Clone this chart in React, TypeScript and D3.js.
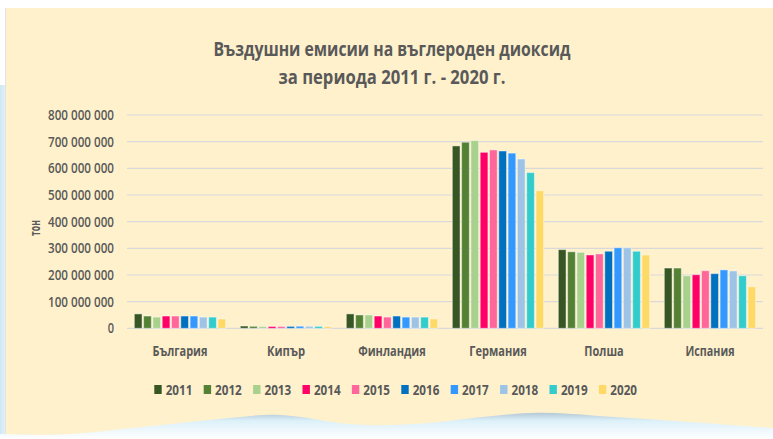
import React from "react";
import * as d3 from "d3";

const categories = ["България", "Кипър", "Финландия", "Германия", "Полша", "Испания"];
const years = ["2011", "2012", "2013", "2014", "2015", "2016", "2017", "2018", "2019", "2020"];
const colors = ["#375623", "#548235", "#a9d18e", "#ff0066", "#ff6699", "#0070c0", "#3399ff", "#9dc3e6", "#33cccc", "#ffd966"];
const bulgaria = [54e6, 46e6, 42e6, 46e6, 46e6, 46e6, 46e6, 42e6, 42e6, 35e6];
const cyprus = [8.5e6, 7.5e6, 6.8e6, 6.8e6, 7e6, 7.2e6, 7.8e6, 7.6e6, 7.2e6, 6.8e6];
const finland = [54e6, 50e6, 50e6, 46e6, 42e6, 46e6, 42e6, 42e6, 42e6, 35e6];
const germany = [684e6, 698e6, 704e6, 660e6, 669e6, 665e6, 657e6, 635e6, 584e6, 516e6];
const poland = [295e6, 287e6, 285e6, 275e6, 279e6, 289e6, 302e6, 302e6, 289e6, 275e6];
const spain = [226e6, 226e6, 197e6, 201e6, 216e6, 205e6, 219e6, 215e6, 197e6, 156e6];
const seriesByCategory = [bulgaria, cyprus, finland, germany, poland, spain];
const yTicks = [0, 100e6, 200e6, 300e6, 400e6, 500e6, 600e6, 700e6, 800e6];
const titleLines = ["Въздушни емисии на въглероден диоксид", "за периода 2011 г. - 2020 г."];
const yAxisTitle = "тон";

const W = 773;
const H = 439;
const FONT = "'Open Sans', 'Noto Sans', 'DejaVu Sans', sans-serif";
const TXT = "#595959";

const fmt = d3.formatLocale({ decimal: ",", thousands: " ", grouping: [3], currency: ["", ""] }).format(",");

function tickWidth(s: string) {
  let w = 0;
  for (const c of s) w += c === " " ? 4.65 : 6.3;
  return w;
}

const catWidths = [55, 38, 67.7, 57.4, 39.3, 49];

export default function App() {
  const x0 = d3.scaleBand<string>().domain(categories).range([127, 763]).paddingInner(0.138).paddingOuter(0.069);
  const x1 = d3.scaleBand<string>().domain(years).range([0, x0.bandwidth()]).paddingInner(0.17).paddingOuter(0);
  const y = d3.scaleLinear().domain([0, 800e6]).range([328.3, 115]);

  const wavePts: [number, number][] = [
    [0, 434], [60, 436], [120, 429], [180, 423], [230, 418], [275, 413], [315, 419], [355, 426],
    [420, 425], [480, 417], [540, 411], [595, 416], [650, 419], [705, 423], [773, 428],
  ];
  const waveLine = d3.line().curve(d3.curveBasis)(wavePts) || "";
  const wavePath = waveLine + ` L${W},${H} L0,${H} Z`;

  const legendStep = 49.4;
  const legendStart = 154.3;

  return (
    <svg width={W} height={H} style={{ position: "absolute", left: 0, top: 0 }} fontFamily={FONT}>
      <defs>
        <linearGradient id="waveG" x1="0" y1="0" x2="0" y2="1">
          <stop offset="0" stopColor="#b4c9d6" />
          <stop offset="0.3" stopColor="#dcf0f9" />
          <stop offset="1" stopColor="#ffffff" />
        </linearGradient>
        <linearGradient id="leftG" x1="0" y1="0" x2="1" y2="0">
          <stop offset="0" stopColor="#cfe7f3" />
          <stop offset="1" stopColor="#e4f2f9" />
        </linearGradient>
      </defs>
      <rect x={0} y={0} width={W} height={H} fill="#ffffff" />
      <rect x={0} y={85} width={6} height={H - 85} fill="url(#leftG)" />
      <rect x={5} y={8} width={1} height={H - 8} fill="#e3e3e3" />
      <rect x={6} y={8} width={W - 6} height={H - 8} fill="#fff1cc" />

      {titleLines.map((t, i) => (
        <text key={i} x={392} y={i === 0 ? 56 : 84} textAnchor="middle" fontSize={20} fontWeight={700} fill={TXT}
          textLength={i === 0 ? 357 : 227} lengthAdjust="spacingAndGlyphs">{t}</text>
      ))}

      {yTicks.map((t) => (
        <g key={t}>
          <line x1={127} x2={763} y1={y(t)} y2={y(t)} stroke="#d9d9d9" strokeWidth={1.2} />
          <text x={114} y={y(t)} dy="0.36em" textAnchor="end" fontSize={14} fontWeight={600} fill={TXT}
            textLength={tickWidth(fmt(t))} lengthAdjust="spacingAndGlyphs">{fmt(t)}</text>
        </g>
      ))}

      <text transform={`translate(39.5,228) rotate(-90)`} textAnchor="middle" fontSize={14} fontWeight={700} fill={TXT}
        textLength={16} lengthAdjust="spacingAndGlyphs">{yAxisTitle}</text>

      {categories.map((c, ci) => (
        <g key={c} transform={`translate(${x0(c)},0)`}>
          {years.map((yr, yi) => {
            const v = seriesByCategory[ci][yi];
            return (
              <rect key={yr} x={x1(yr)} y={y(v)} width={x1.bandwidth()} height={y(0) - y(v)}
                fill={colors[yi]} stroke="rgba(255,255,255,0.45)" strokeWidth={1} />
            );
          })}
        </g>
      ))}

      {categories.map((c, ci) => (
        <text key={c} x={(x0(c) as number) + x0.bandwidth() / 2} y={356} textAnchor="middle" fontSize={14.5} fontWeight={700}
          fill={TXT} textLength={catWidths[ci]} lengthAdjust="spacingAndGlyphs">{c}</text>
      ))}

      {years.map((yr, i) => (
        <g key={yr} transform={`translate(${legendStart + i * legendStep},0)`}>
          <rect x={0} y={385} width={7.4} height={9} fill={colors[i]} />
          <text x={11.4} y={395} fontSize={15} fontWeight={700} fill={TXT} textLength={26.7} lengthAdjust="spacingAndGlyphs">{yr}</text>
        </g>
      ))}

      <path d={wavePath} fill="url(#waveG)" />
    </svg>
  );
}
